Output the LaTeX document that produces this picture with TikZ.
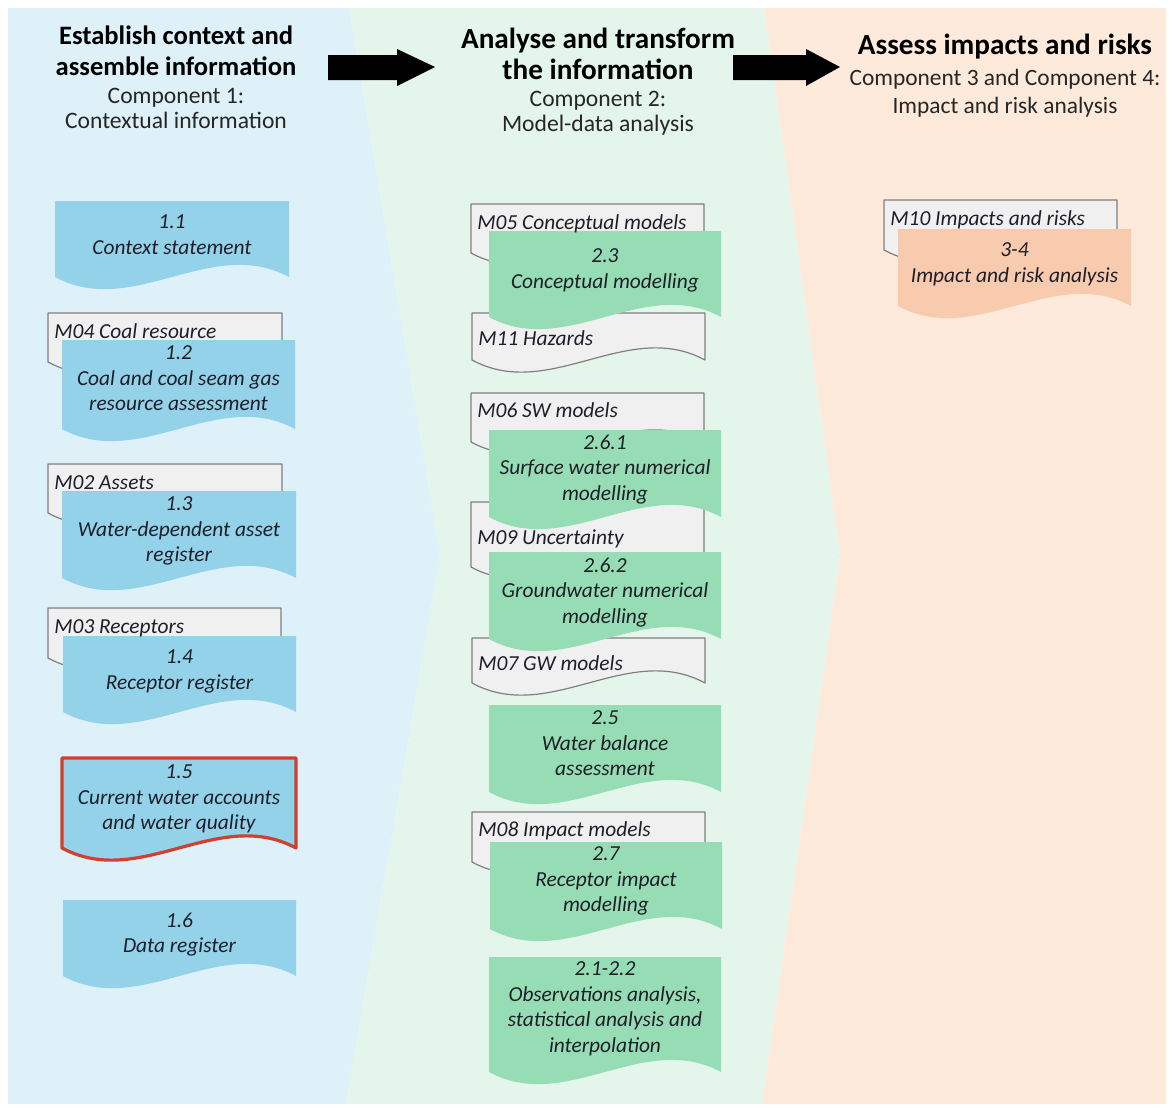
\documentclass[tikz,border=0pt]{standalone}
\usepackage{fontspec}
\setmainfont{Carlito}
\definecolor{bgblue}{HTML}{DEF0F8}
\definecolor{bggreen}{HTML}{E4F5EC}
\definecolor{bgpeach}{HTML}{FDEADB}
\definecolor{boxblue}{HTML}{94D2EA}
\definecolor{boxgreen}{HTML}{96DDB6}
\definecolor{boxpeach}{HTML}{F8CAAE}
\definecolor{boxgray}{HTML}{F0F0F0}
\definecolor{linegray}{HTML}{7F7F7F}
\definecolor{redline}{HTML}{D0402E}
\definecolor{txt}{HTML}{1E1E28}
\newcommand\docpath[5]{%
  \path[#1] (#2,#3) -- (#4,#3) -- (#4,#5)
    .. controls ({#2+(#4-#2)*2/3},{#5-42}) and ({#2+(#4-#2)/3},{#5+42}) .. (#2,#5) -- cycle;}
\tikzset{
  blueshape/.style={fill=boxblue},
  greenshape/.style={fill=boxgreen},
  peachshape/.style={fill=boxpeach},
  grayshape/.style={fill=boxgray, draw=linegray, line width=0.6pt, line join=round},
  boxtext/.style={font=\fontsize{10.7}{12.75}\selectfont\itshape, text=txt, align=center, inner sep=0pt, anchor=north},
  mtext/.style={font=\fontsize{10.7}{12.75}\selectfont\itshape, text=txt, inner sep=0pt, anchor=base west},
  headbold/.style={font=\fontsize{13.3}{15.5}\selectfont\bfseries, text=black, align=center, inner sep=0pt, anchor=north},
  headboldL/.style={headbold, font=\fontsize{14.6}{15.5}\selectfont\bfseries},
  headsub/.style={font=\fontsize{11.8}{12.5}\selectfont, text=black!85, align=center, inner sep=0pt, anchor=north},
}
\begin{document}
\begin{tikzpicture}[x=0.5pt, y=-0.5pt]
\useasboundingbox (0,0) rectangle (1173,1108);
% backgrounds
\fill[bgblue] (8,8) -- (349,8) -- (440,556) -- (346,1104) -- (8,1104) -- cycle;
\fill[bggreen] (349,8) -- (764,8) -- (840,556) -- (762,1104) -- (346,1104) -- (440,556) -- cycle;
\fill[bgpeach] (764,8) -- (1166,8) -- (1166,1104) -- (762,1104) -- (840,556) -- cycle;
% block arrows
\fill[black] (328,55) -- (397,55) -- (397,49) -- (435,67) -- (397,86) -- (397,80) -- (328,80) -- cycle;
\fill[black] (733,55) -- (806,55) -- (806,49) -- (840,67) -- (806,86) -- (806,80) -- (733,80) -- cycle;
% headers
\node[headbold] (h1) at (176,25.5) {Establish context and\\assemble information};
\node[headsub] (h1s) at (176,87.5) {Component 1:\\Contextual information};
\node[headboldL] (h2) at (598,28) {Analyse and transform\\the information};
\node[headsub] (h2s) at (598,90.5) {Component 2:\\Model-data analysis};
\node[headboldL] (h3) at (1005,33.5) {Assess impacts and risks};
\node[headsub, font=\fontsize{11.7}{14}\selectfont] (h3s) at (1005,68.5) {Component 3 and Component 4:\\Impact and risk analysis};
% left column
\docpath{blueshape}{55}{201}{289}{277}
\docpath{grayshape}{48}{313}{282}{362}
\docpath{blueshape}{62}{340}{295}{429}
\docpath{grayshape}{48}{464}{282}{513}
\docpath{blueshape}{62}{491}{296}{578}
\docpath{grayshape}{48}{608}{281}{658}
\docpath{blueshape}{63}{636}{296}{712}
\docpath{blueshape, draw=redline, line width=1.6pt, line join=round}{62}{758}{296}{848}
\docpath{blueshape}{63}{900}{296}{976}
% middle column
\docpath{grayshape}{471}{204}{704}{253}
\docpath{grayshape}{472}{313}{705}{360}
\docpath{grayshape}{471}{393}{704}{442}
\docpath{grayshape}{471}{502}{704}{567}
\docpath{grayshape}{472}{638}{705}{683}
\docpath{grayshape}{472}{812}{705}{862}
\docpath{greenshape}{489}{231}{721}{317}
\docpath{greenshape}{489}{430}{721}{517}
\docpath{greenshape}{489}{552}{721}{639}
\docpath{greenshape}{489}{705}{721}{792}
\docpath{greenshape}{490}{842}{722}{929}
\docpath{greenshape}{489}{957}{721}{1072}
% right column
\docpath{grayshape}{884}{200}{1117}{250}
\docpath{peachshape}{898}{229}{1131}{306}
% gray labels
\node[mtext] (m04) at (54,338) {M04 Coal resource};
\node[mtext] (m02) at (54,489) {M02 Assets};
\node[mtext] (m03) at (54,633) {M03 Receptors};
\node[mtext] (m05) at (477,229) {M05 Conceptual models};
\node[mtext] (m11) at (478,345) {M11 Hazards};
\node[mtext] (m06) at (477,417) {M06 SW models};
\node[mtext] (m09) at (477,544) {M09 Uncertainty};
\node[mtext] (m07) at (478,670) {M07 GW models};
\node[mtext] (m08) at (478,836) {M08 Impact models};
\node[mtext] (m10) at (890,225) {M10 Impacts and risks};
% box texts
\node[boxtext] (b11) at (172,214.5) {1.1\\Context statement};
\node[boxtext] (b12) at (178.5,345.5) {1.2\\Coal and coal seam gas\\resource assessment};
\node[boxtext] (b13) at (179,496.5) {1.3\\Water-dependent asset\\register};
\node[boxtext] (b14) at (179.5,649.5) {1.4\\Receptor register};
\node[boxtext] (b15) at (179,764.5) {1.5\\Current water accounts\\and water quality};
\node[boxtext] (b16) at (179.5,912.5) {1.6\\Data register};
\node[boxtext] (b23) at (605,248.5) {2.3\\Conceptual modelling};
\node[boxtext] (b261) at (605,434.5) {2.6.1\\Surface water numerical\\modelling};
\node[boxtext] (b262) at (605,557.5) {2.6.2\\Groundwater numerical\\modelling};
\node[boxtext] (b25) at (605,710.5) {2.5\\Water balance\\assessment};
\node[boxtext] (b27) at (606,846.5) {2.7\\Receptor impact\\modelling};
\node[boxtext] (b21) at (605,961.5) {2.1-2.2\\Observations analysis,\\statistical analysis and\\interpolation};
\node[boxtext] (b34) at (1014.5,242.5) {3-4\\Impact and risk analysis};
\end{tikzpicture}
\end{document}
